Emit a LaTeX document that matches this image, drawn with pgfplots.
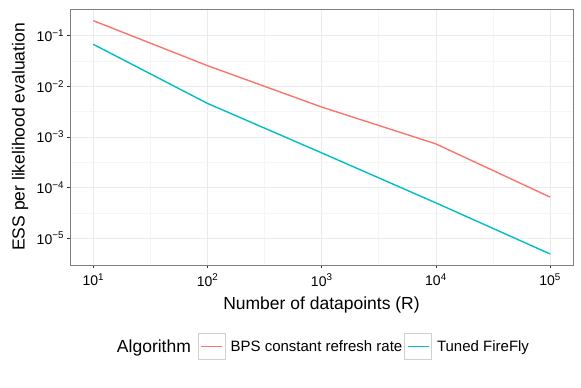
\documentclass[border=0pt]{standalone}
\usepackage{pgfplots}
\pgfplotsset{compat=1.18}
\usepackage{fontspec}
\setmainfont{Liberation Sans}
\definecolor{bpsred}{HTML}{F8766D}
\definecolor{ffcyan}{HTML}{00BFC4}
\definecolor{gridmaj}{HTML}{EBEBEB}
\definecolor{gridmin}{HTML}{F5F5F5}
\definecolor{panelborder}{HTML}{7F7F7F}
\definecolor{keyborder}{HTML}{D0D0D0}

\begin{document}
\begin{tikzpicture}
\useasboundingbox (0pt,0pt) rectangle (581pt,388pt);
\begin{loglogaxis}[
    at={(70pt,123pt)}, anchor=south west,
    width=503pt, height=256pt, scale only axis,
    xmin=6.25, xmax=158489,
    ymin=2.97e-6, ymax=0.3365,
    xtick={10,100,1000,10000,100000},
    xticklabels={10\textsuperscript{1},10\textsuperscript{2},10\textsuperscript{3},10\textsuperscript{4},10\textsuperscript{5}},
    ytick={1e-5,1e-4,1e-3,1e-2,1e-1},
    yticklabels={10\textsuperscript{−5},10\textsuperscript{−4},10\textsuperscript{−3},10\textsuperscript{−2},10\textsuperscript{−1}},
    minor xtick={31.62,316.2,3162,31623},
    minor ytick={3.162e-5,3.162e-4,3.162e-3,3.162e-2},
    grid=both,
    major grid style={gridmaj, line width=0.9pt},
    minor grid style={gridmin, line width=0.7pt},
    axis line style={panelborder, line width=1pt},
    tick pos=left, tick align=outside,
    major tick length=3.5pt, minor tick length=0pt,
    tick style={black!80, line width=0.9pt},
    tick label style={font=\fontsize{14}{16}\selectfont, black},
    xticklabel style={yshift=-2pt},
    yticklabel style={xshift=1pt},
    label style={font=\fontsize{17.5}{20}\selectfont},
    xlabel={Number of datapoints (R)},
    ylabel={ESS per likelihood evaluation},
    xlabel style={at={(axis description cs:0.5,-0.157)}, anchor=center},
    ylabel style={at={(axis description cs:-0.0994,0.5)}, anchor=center},
    legend columns=3,
    legend style={at={(0.5,-0.319)}, anchor=center, draw=none, fill=none,
                  font=\fontsize{15}{17}\selectfont,
                  nodes={inner xsep=2pt, inner ysep=0pt},
                  /tikz/every odd column/.append style={column sep=3pt}},
    legend image code/.code={
        \draw[keyborder, line width=1pt, fill=white] (0pt,-13.3pt) rectangle (26.7pt,13.3pt);
        \draw[#1] (3pt,0pt) -- (23.7pt,0pt);},
]
\addlegendimage{empty legend}
\addlegendentry{\fontsize{17.5}{20}\selectfont Algorithm\hspace*{5pt}\mbox{}}
% BPS constant refresh rate
\addplot[bpsred, line width=1.4pt] coordinates {
    (10,0.198) (100,0.0256) (1000,0.0039) (10000,7.3e-4) (100000,6.5e-5) };
\addlegendentry{BPS constant refresh rate}
% Tuned FireFly
\addplot[ffcyan, line width=1.4pt] coordinates {
    (10,0.0676) (100,4.6e-3) (1000,4.85e-4) (10000,5.0e-5) (100000,4.9e-6) };
\addlegendentry{Tuned FireFly}
\end{loglogaxis}
\end{tikzpicture}
\end{document}
